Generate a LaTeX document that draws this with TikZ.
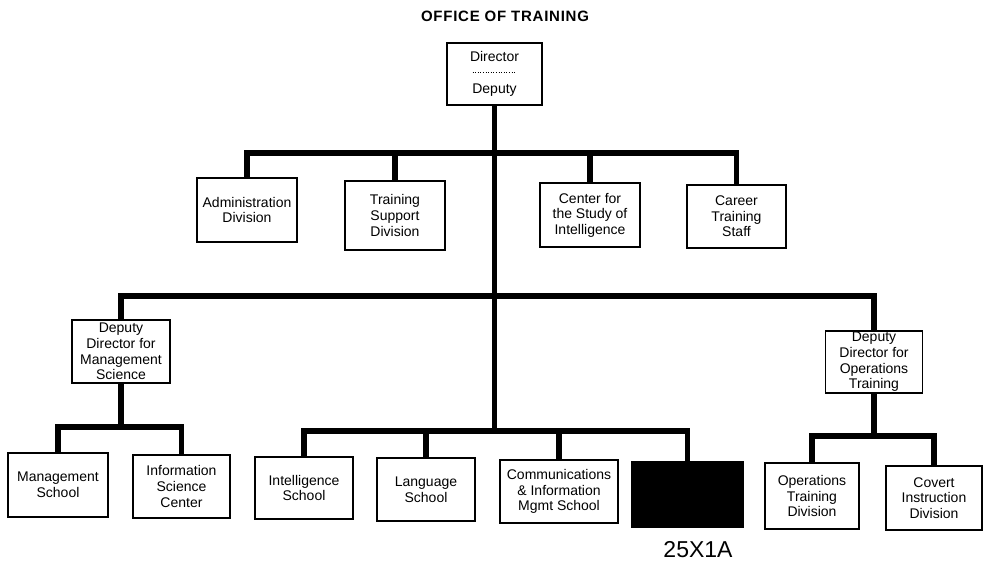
\documentclass[tikz,border=0pt]{standalone}
\usepackage{fontspec}
\newfontfamily\boxfont{Liberation Sans}
\newfontfamily\titlefont{Liberation Sans}[LetterSpace=5]
\newfontfamily\plainsans{Liberation Sans}
\begin{document}
\begin{tikzpicture}[x=1pt,y=-1pt,
  orgbox/.style={draw, line width=1.2pt, inner sep=0pt, align=center,
    font=\boxfont\fontsize{14}{15.6}\selectfont},
  link/.style={line width=5.5pt, line join=miter},
  wh/.style n args={2}{minimum width=#1pt, minimum height=#2pt}]
\useasboundingbox (0,0) rectangle (985,561);

\node[font=\titlefont\bfseries\fontsize{15}{17}\selectfont] (title) at (505,16) {OFFICE OF TRAINING};

\node[orgbox, wh={95}{62}] (dir) at (494.5,74) {Director\\[17pt]Deputy};
\draw[dotted, line width=0.6pt] ([xshift=-22pt,yshift=2pt]dir.center) -- ([xshift=22pt,yshift=2pt]dir.center);

\node[orgbox, wh={100}{64}] (admin) at (247,210) {Administration\\Division};
\node[orgbox, wh={100}{69}] (tsd) at (395,215.5) {Training\\Support\\Division};
\node[orgbox, wh={100}{64}] (csi) at (590,215) {Center for\\the Study of\\Intelligence};
\node[orgbox, wh={99}{63}] (cts) at (736.5,216.5) {Career\\Training\\Staff};

\node[orgbox, wh={98}{63}] (ddms) at (121,351.5) {Deputy\\Director for\\Management\\Science};
\node[orgbox, wh={97}{62}] (ddot) at (874,362) {Deputy\\Director for\\Operations\\Training};

\node[orgbox, wh={100}{64}] (ms) at (58,485) {Management\\School};
\node[orgbox, wh={97}{63}] (isc) at (181.5,486.5) {Information\\Science\\Center};
\node[orgbox, wh={98}{62}] (is) at (304,488) {Intelligence\\School};
\node[orgbox, wh={98}{63}] (ls) at (426,489.5) {Language\\School};
\node[orgbox, wh={118}{63}] (cims) at (559,491.5) {Communications\\\& Information\\Mgmt School};
\node[draw, fill=black, line width=1.2pt, minimum width=111pt, minimum height=65pt] (black) at (687.5,494.5) {};
\node[orgbox, wh={94}{66}] (otd) at (812,496) {Operations\\Training\\Division};
\node[orgbox, wh={96}{64}] (cid) at (934,498) {Covert\\Instruction\\Division};

\node[font=\plainsans\fontsize{23}{26}\selectfont] (code) at (698,550) {25X1A};

\coordinate (bar1) at (492,153);
\coordinate (bar2) at (492,296);
\coordinate (midbar) at (492,431);
\coordinate (lbar) at (121,427);
\coordinate (rbar) at (874,436);

\draw[link] (dir.south) -- (dir.south |- midbar);
\draw[link] (admin.north) |- (bar1) -| (cts.north);
\draw[link] (tsd.north) |- (bar1);
\draw[link] (csi.north) |- (bar1);

\draw[link] (ddms.north) |- (bar2) -| (ddot.north);

\draw[link] (ddms.south) -- (lbar);
\draw[link] (ms.north) |- (lbar) -| (isc.north);

\draw[link] (is.north) |- (midbar) -| (black.north);
\draw[link] (ls.north) |- (midbar);
\draw[link] (cims.north) |- (midbar);

\draw[link] (ddot.south) -- (rbar);
\draw[link] (otd.north) |- (rbar) -| (cid.north);
\end{tikzpicture}
\end{document}
